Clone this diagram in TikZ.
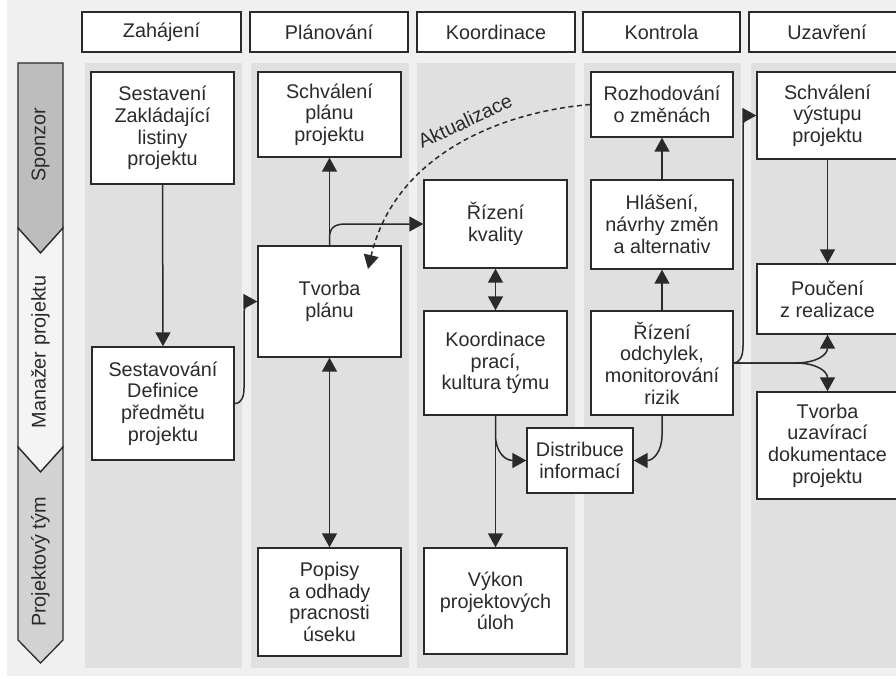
\documentclass[tikz,border=0pt]{standalone}
\usepackage{fontspec}
\setmainfont{Liberation Sans}
\usetikzlibrary{arrows.meta}
\definecolor{ink}{HTML}{2A2A2A}
\definecolor{panelc}{HTML}{F0F0F0}
\definecolor{colc}{HTML}{E0E0E0}
\definecolor{sponc}{HTML}{BDBDBD}
\definecolor{manc}{HTML}{F4F4F4}
\definecolor{timc}{HTML}{D2D2D2}
\newcommand\pbx[6]{\node[pbox, minimum width={#4-#2}, minimum height={#5-#3}] (#1) at ({(#2+#4)/2},{(#3+#5)/2}) {#6};}
\begin{document}
\begin{tikzpicture}[x=1pt,y=-1pt,
  font=\fontsize{19.8}{21.7}\selectfont, text=ink,
  pbox/.style={draw=ink, line width=1.4pt, fill=white, align=center, inner sep=0pt},
  lane/.style={draw=ink, line width=1.3pt},
  tip/.tip={Triangle[length=14pt,width=15pt]},
  arr/.style={draw=ink, line width=1.5pt, -tip},
  arrb/.style={draw=ink, line width=1.5pt, tip-tip},
  darr/.style={draw=ink, line width=1.5pt, dash pattern=on 5pt off 3.5pt, -tip}]
\useasboundingbox (0,0) rectangle (896,679);
\clip (0,0) rectangle (896,679);
\fill[white] (0,0) rectangle (896,679);
\fill[panelc] (7,0) rectangle (900,676);
% columns
\fill[colc] (85,63) rectangle (242,668);
\fill[colc] (251,63) rectangle (409,668);
\fill[colc] (417,63) rectangle (575,668);
\fill[colc] (584,63) rectangle (741,668);
\fill[colc] (751,63) rectangle (900,668);
% lanes
\filldraw[lane, fill=sponc] (18,63) -- (63,63) -- (63,228) -- (40.5,253) -- (18,228) -- cycle;
\filldraw[lane, fill=manc] (18,228) -- (40.5,253) -- (63,228) -- (63,447) -- (40.5,472) -- (18,447) -- cycle;
\filldraw[lane, fill=timc] (18,447) -- (40.5,472) -- (63,447) -- (63,640) -- (40.5,663) -- (18,640) -- cycle;
\node[rotate=90] (lsp) at (40.5,145) {Sponzor};
\node[rotate=90] (lman) at (40.5,352) {Manažer projektu};
\node[rotate=90] (ltym) at (40.5,562) {Projektový tým};
% headers
\pbx{h1}{82}{12}{241}{52}{Zahájení}
\pbx{h2}{250}{12}{408}{52}{Plánování}
\pbx{h3}{417}{12}{575}{52}{Koordinace}
\pbx{h4}{583}{12}{740}{52}{Kontrola}
\pbx{h5}{749}{12}{905}{52}{Uzavření}
% boxes
\pbx{a}{91}{72}{234}{184}{Sestavení\\Zakládající\\listiny\\projektu}
\pbx{b}{258}{72}{401}{157}{Schválení\\plánu\\projektu}
\pbx{c}{92}{347}{234}{460}{Sestavování\\Definice\\předmětu\\projektu}
\pbx{d}{258}{246}{401}{357}{Tvorba\\plánu}
\pbx{e}{258}{548}{401}{656}{Popisy\\a odhady\\pracnosti\\úseku}
\pbx{f}{424}{180}{567}{268}{Řízení\\kvality}
\pbx{g}{424}{311}{567}{415}{Koordinace\\prací,\\kultura týmu}
\pbx{h}{527}{428}{633}{493}{Distribuce\\informací}
\pbx{i}{424}{548}{567}{654}{Výkon\\projektových\\úloh}
\pbx{j}{591}{72}{733}{137}{Rozhodování\\o změnách}
\pbx{k}{591}{180}{733}{269}{Hlášení,\\návrhy změn\\a alternativ}
\pbx{l}{591}{311}{733}{415}{Řízení\\odchylek,\\monitorování\\rizik}
\pbx{m}{757}{72}{898}{159}{Schválení\\výstupu\\projektu}
\pbx{n}{757}{264}{898}{334}{Poučení\\z realizace}
\pbx{o}{757}{392}{898}{499}{Tvorba\\uzavírací\\dokumentace\\projektu}
% connectors
\draw[arr] (a.south) -- (c.north);
\draw[arr] (c.east) .. controls (242,403.5) and (244,396) .. (244,388) -- (244,314) .. controls (244,305) and (249,301.5) .. (d.west);
\draw[arr] (d.north) -- (b.south);
\draw[arr] (d.north) -- (329.5,238) .. controls (329.5,228) and (334,224) .. (346,224) -- (f.west);
\draw[arrb] (e.north) -- (d.south);
\coordinate (upd) at (368,269);
\draw[darr] (j.west) .. controls (500,112) and (395,155) .. (upd);
\node[rotate=25] (akt) at (465,121) {Aktualizace};
\draw[arrb] (f.south) -- (g.north);
\draw[arr] (g.south) -- (i.north);
\draw[arr] (g.south) -- (495.5,435) .. controls (495.5,452) and (505,460.5) .. (h.west);
\draw[arr] (l.south) -- (662,435) .. controls (662,452) and (653,460.5) .. (h.east);
\draw[arr] (l.north) -- (k.south);
\draw[arr] (k.north) -- (j.south);
\draw[arr] (l.east) .. controls (740,363) and (743,356) .. (743,346) -- (743,128) .. controls (743,119) and (747,115.5) .. (m.west);
\draw[arr] (l.east) -- (795,363) .. controls (818,363) and (827.5,354) .. (n.south);
\draw[arr] (l.east) -- (795,363) .. controls (818,363) and (827.5,372) .. (o.north);
\draw[arr] (m.south) -- (n.north);
\end{tikzpicture}
\end{document}
